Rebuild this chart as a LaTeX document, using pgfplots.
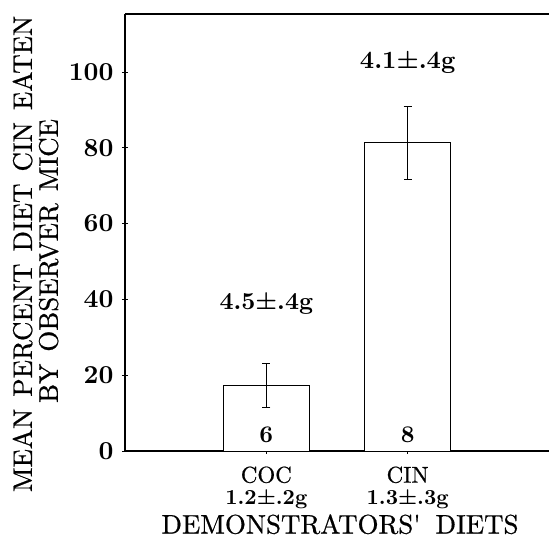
\documentclass[border=0pt]{standalone}
\usepackage{fontspec}
\setmainfont{lmroman10-regular}[Extension=.otf, BoldFont=lmroman10-bold]
\newfontfamily\lab{lmroman10-regular}[Extension=.otf, FakeBold=0.7]
\usepackage{pgfplots}
\pgfplotsset{compat=1.18}
\newcommand\wsp{\hspace{0.45em}}
\begin{document}
\begin{tikzpicture}
\begin{axis}[
  scale only axis, width=424bp, height=437bp,
  xmin=0, xmax=3, ymin=0, ymax=115.3,
  axis x line=box, axis y line=left,
  axis line style={line width=1.3pt, -},
  xtick={1,2},
  xticklabels={{COC\\[-3bp]\normalfont\bfseries\fontsize{21.5}{22}\selectfont 1.2±.2g},{CIN\\[-3bp]\normalfont\bfseries\fontsize{21.5}{22}\selectfont 1.3±.3g}},
  xtick pos=bottom, ytick pos=left,
  ytick={0,20,40,60,80,100},
  tick align=center, major tick length=6bp,
  tick style={black, line width=0.8pt},
  /pgf/number format/assume math mode=true,
  yticklabel style={font=\bfseries\fontsize{26}{30}\selectfont, xshift=-5bp},
  xticklabel style={font=\lab\fontsize{23}{25}\selectfont, align=center, yshift=-9bp},
  xlabel={DEMONSTRATORS'\hspace{0.55em}DIETS},
  xlabel style={font=\lab\fontsize{27}{27}\selectfont, inner sep=0pt, at={(axis description cs:0.507,-0.189)}, anchor=base},
  ylabel={MEAN\wsp PERCENT\wsp DIET\wsp CIN\wsp EATEN\\BY\wsp OBSERVER\wsp MICE\makebox[14bp]{}},
  ylabel style={font=\lab\fontsize{27}{26}\selectfont, align=center, at={(axis description cs:-0.211,0.4508)}, anchor=center},
  clip=false,
]
\addplot[ybar, bar width=0.61, fill=white, draw=black, line width=0.8pt,
  error bars/.cd, y dir=both, y explicit,
  error bar style={line width=0.9pt},
  error mark options={rotate=90, mark size=4bp, line width=0.9pt}]
  coordinates {(1,17.2) +- (0,5.8) (2,81.3) +- (0,9.7)};
\node[font=\bfseries\fontsize{24.5}{28}\selectfont] at (axis cs:1,39) {4.5±.4g};
\node[font=\bfseries\fontsize{25}{28}\selectfont] at (axis cs:2,102.6) {4.1±.4g};
\node[font=\bfseries\fontsize{24}{28}\selectfont] at (axis cs:1,4.3) {6};
\node[font=\bfseries\fontsize{24}{28}\selectfont] at (axis cs:2,4.3) {8};
\coordinate (bl) at (rel axis cs:-0.2948,-0.1945);
\coordinate (tr) at (rel axis cs:1,1.032);
\end{axis}
\pgfresetboundingbox
\path[use as bounding box] (bl) rectangle (tr);
\end{tikzpicture}
\end{document}
